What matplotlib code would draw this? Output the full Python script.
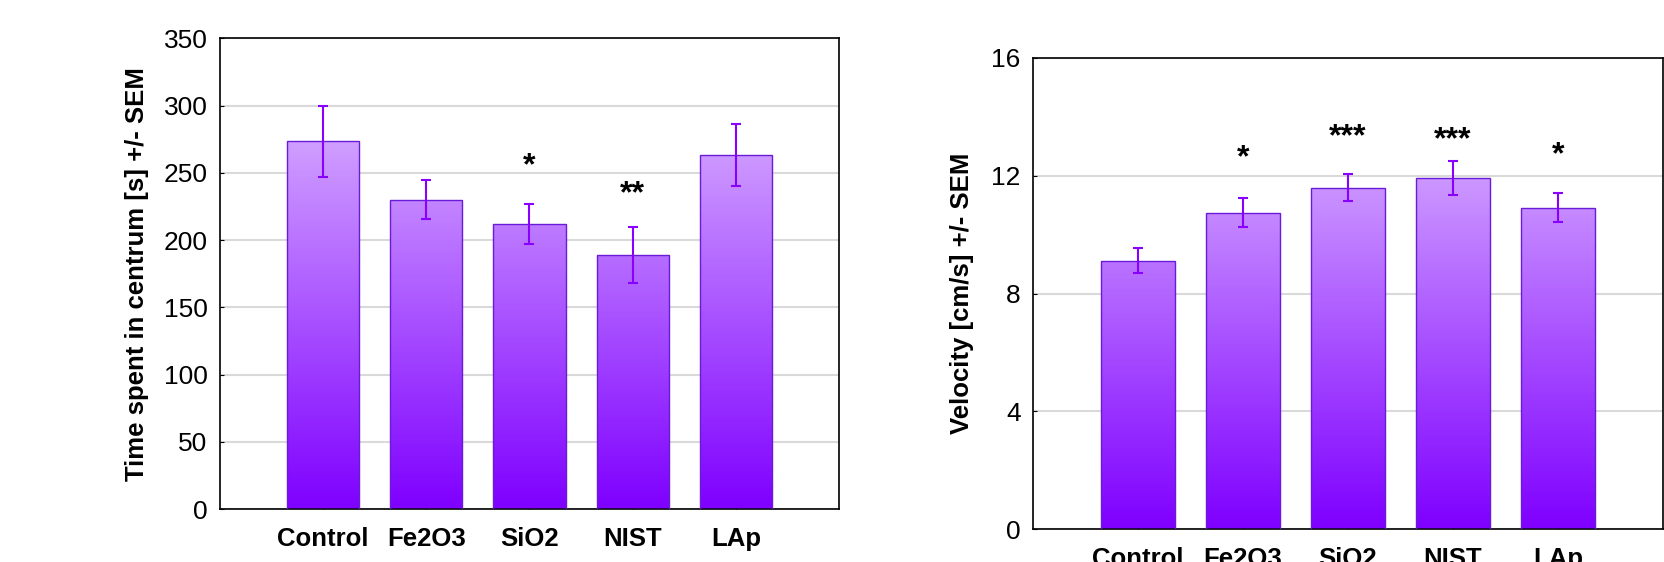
import matplotlib.pyplot as plt
import numpy as np
from matplotlib.colors import LinearSegmentedColormap

plt.rcParams['font.family'] = ['Liberation Sans', 'DejaVu Sans']

groups = ['Control', 'Fe2O3', 'SiO2', 'NIST', 'LAp']

# time spent in centrum [s]
time_mean = [273.5, 230, 212, 189, 263.5]
time_sem = [26.5, 14.5, 15, 21, 23]
time_stars = ['', '', '*', '**', '']
time_star_y = [0, 0, 255, 234, 0]

# velocity [cm/s]
vel_mean = [9.12, 10.75, 11.6, 11.92, 10.92]
vel_sem = [0.43, 0.49, 0.47, 0.58, 0.5]
vel_stars = ['', '*', '***', '***', '*']
vel_star_y = [0, 12.6, 13.3, 13.2, 12.7]

# gradient: deep violet at the bottom, pale lavender at the top
cmap = LinearSegmentedColormap.from_list('violet', ['#7f00ff', '#e6caff'])


def bar_panel(ax, means, sems, stars, star_y, ymax, yticks, ylabel, lab_x):
    x = np.arange(1, len(groups) + 1)
    bars = ax.bar(x, means, width=0.7, color='none', edgecolor='#6a1bd8',
                  linewidth=1.0, zorder=3)
    for b in bars:
        x0 = b.get_x()
        h = b.get_height()
        grad = np.linspace(0, h, 200).reshape(-1, 1)
        im = ax.imshow(grad, cmap=cmap, vmin=0, vmax=ymax, origin='lower',
                       extent=(x0, x0 + b.get_width(), 0, h), aspect='auto',
                       zorder=2, interpolation='bilinear')
        im.set_clip_path(b)
    ax.errorbar(x, means, yerr=sems, fmt='none', ecolor='#8a00ff',
                elinewidth=1.5, capsize=3.8, capthick=1.5, zorder=4)
    for xi, s, sy in zip(x, stars, star_y):
        if s:
            ax.text(xi, sy, s, ha='center', va='center', fontsize=23,
                    fontweight='bold')
    ax.set_xlim(0, 6)
    ax.set_ylim(0, ymax)
    ax.set_yticks(yticks)
    ax.set_xticks(x)
    ax.set_xticklabels(groups, fontweight='bold', fontsize=18.5)
    ax.tick_params(axis='y', direction='in', length=3, labelsize=19, pad=9)
    ax.tick_params(axis='x', direction='in', length=3.5, pad=13)
    ax.yaxis.grid(True, color='#d9d9d9', linewidth=1.5, zorder=0)
    ax.set_axisbelow(True)
    for sp in ax.spines.values():
        sp.set_linewidth(1.2)
    ax.set_ylabel(ylabel, fontsize=18.5, fontweight='bold')
    ax.yaxis.set_label_coords(lab_x, 0.5)
    ax.yaxis.label.set_va('center')


fig = plt.figure(figsize=(16.64, 5.62), dpi=100)
ax1 = fig.add_axes([0.1322, 0.0943, 0.3720, 0.8372])
ax2 = fig.add_axes([0.6208, 0.0587, 0.3786, 0.8381])

bar_panel(ax1, time_mean, time_sem, time_stars, time_star_y, 350,
          np.arange(0, 351, 50), 'Time spent in centrum [s] +/- SEM', -0.134)
bar_panel(ax2, vel_mean, vel_sem, vel_stars, vel_star_y, 16,
          [0, 4, 8, 12, 16], 'Velocity [cm/s] +/- SEM', -0.113)

fig.savefig('out.png', dpi=100)
